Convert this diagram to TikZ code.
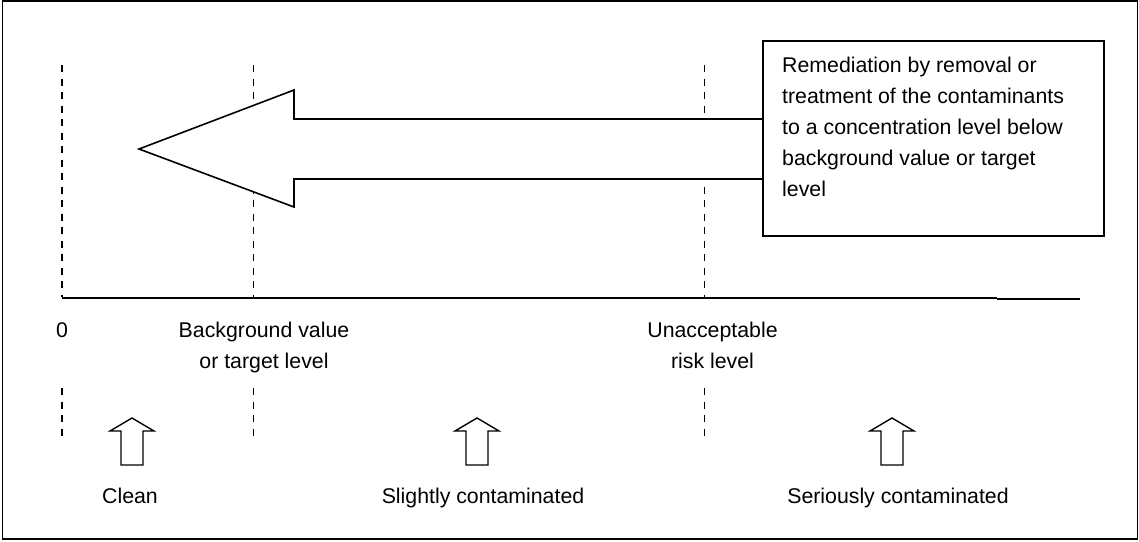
\documentclass[tikz,border=0pt]{standalone}
\usepackage{fontspec}
\setmainfont{Liberation Sans}
\begin{document}
\begin{tikzpicture}[x=1pt,y=-1pt,
  lbl/.style={font=\fontsize{21.3}{31}\selectfont, inner sep=0pt},
  dashline/.style={line width=1.9pt, dash pattern=on 7pt off 6.5pt},
  outline/.style={draw=black, line width=1.6pt, line join=miter, fill=white},
  uparrow/.pic={\draw[outline, line width=1.4pt] (0,-47) -- (22,-34) -- (11,-34) -- (11,0) -- (-11,0) -- (-11,-34) -- (-22,-34) -- cycle;}
]
\useasboundingbox (0,0) rectangle (1139,541);
% frame
\draw[line width=1.6pt] (2.3,1) rectangle (1137.5,539);

% level coordinates
\coordinate (z0t) at (62,65);   \coordinate (z0b) at (62,297);
\coordinate (bgt) at (253.5,65); \coordinate (bgb) at (253.5,297);
\coordinate (urt) at (704.5,65); \coordinate (urb) at (704.5,297);
\coordinate (z0lt) at (62,388);   \coordinate (z0lb) at (62,436);
\coordinate (bglt) at (253.5,388); \coordinate (bglb) at (253.5,436);
\coordinate (urlt) at (704.5,388); \coordinate (urlb) at (704.5,436);

% dashed lines
\draw[dashline] (z0t) -- (z0b);
\draw[dashline] (bgt) -- (bgb);
\draw[dashline] (urt) -- (urb);
\draw[dashline] (z0lt) -- (z0lb);
\draw[dashline] (bglt) -- (bglb);
\draw[dashline] (urlt) -- (urlb);

% axis
\coordinate (ax0) at (62,298);
\coordinate (ax1) at (997,298);
\coordinate (ax2) at (997,299);
\coordinate (ax3) at (1080,299);
\draw[line width=1.3pt] (ax0) -- (ax1);
\draw[line width=2.2pt] (ax2) -- (ax3);

% big arrow
\draw[outline] (139,149) -- (294,90) -- (294,119) -- (763,119) -- (763,179) -- (294,179) -- (294,207) -- cycle;

% text box
\node[draw, line width=1.6pt, fill=white, minimum width=341pt, minimum height=195pt, anchor=north west, inner sep=0pt] (remedbox) at (762,40) {};
\node[lbl, anchor=north west, align=left] (remedtext) at (782,57)
  {Remediation by removal or\\treatment of the contaminants\\to a concentration level below\\background value or target\\level};

% axis labels
\node[lbl, anchor=base] (zero) at (62,337) {0};
\node[lbl, anchor=north, align=center] (bglabel) at (264,321.7) {Background value\\or target level};
\node[lbl, anchor=north, align=center] (urlabel) at (712.5,321.7) {Unacceptable\\risk level};

% small arrows
\pic at (132,465) {uparrow};
\pic at (477,465) {uparrow};
\pic at (892,465) {uparrow};

% category labels
\node[lbl, anchor=base] (clean) at (130,503.5) {Clean};
\node[lbl, anchor=base] (slight) at (483,503.5) {Slightly contaminated};
\node[lbl, anchor=base] (serious) at (898,503.5) {Seriously contaminated};
\end{tikzpicture}
\end{document}
